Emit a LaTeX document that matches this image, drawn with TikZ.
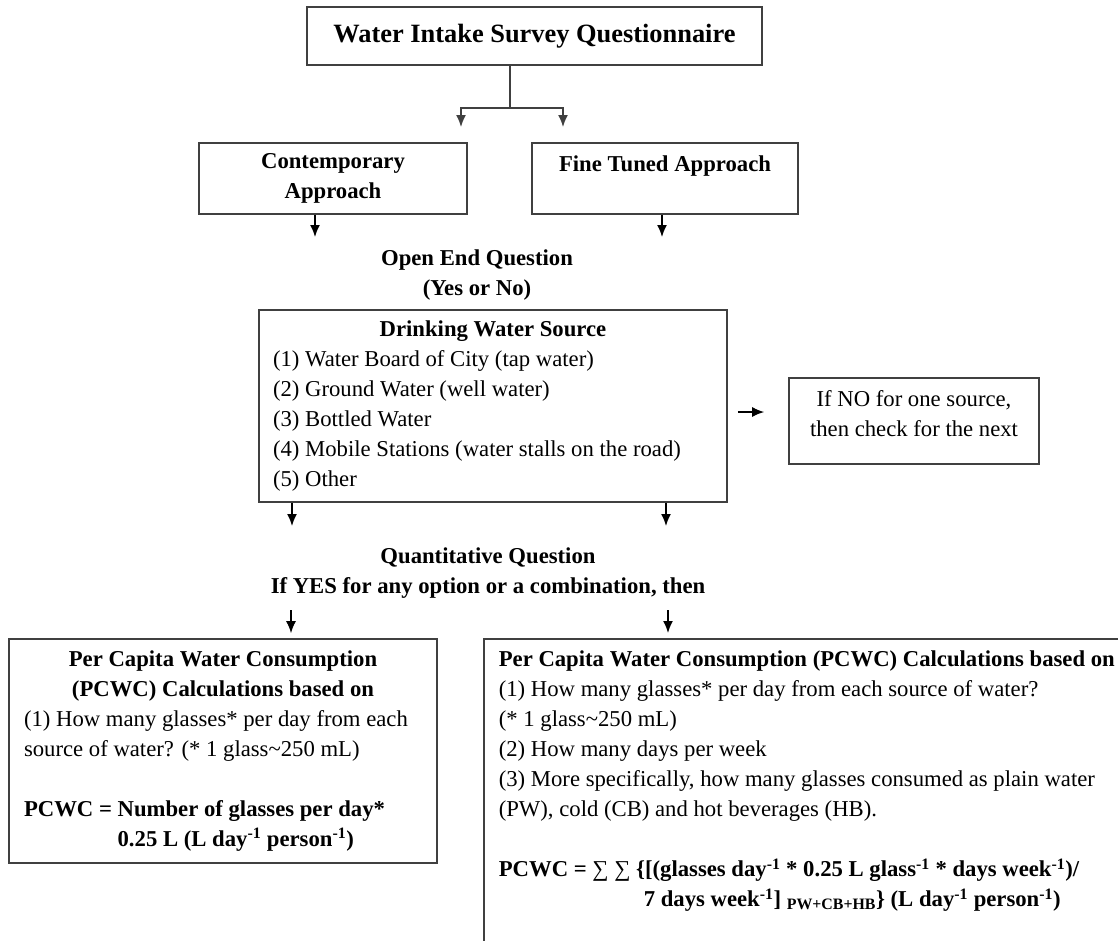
\documentclass[tikz,border=0pt]{standalone}
\usepackage{fontspec}
\setmainfont{Liberation Serif}
\usepackage{tikz}
\usetikzlibrary{arrows.meta,positioning}
\definecolor{boxgray}{gray}{0.25}
\newcommand{\bodysize}{\fontsize{22.7pt}{30pt}\selectfont}
\newcommand{\headsize}{\fontsize{26.4pt}{32pt}\selectfont}
\newcommand{\midline}[1]{\makebox[\hsize][c]{#1}}
\tikzset{
  surveybox/.style={draw=boxgray, line width=1.6pt, font=\headsize\bfseries, minimum width=455pt, minimum height=58pt, inner sep=0pt},
  approachbox/.style={draw=boxgray, line width=1.6pt, align=center, font=\bodysize\bfseries, minimum height=71pt, inner sep=0pt},
  stepnote/.style={align=center, font=\bodysize\bfseries},
  listbox/.style={draw=boxgray, line width=1.6pt, align=flush left, font=\bodysize, inner xsep=14pt, inner ysep=0pt},
  nextbox/.style={draw=boxgray, line width=1.6pt, align=flush center, font=\bodysize, minimum width=250pt, minimum height=86pt, inner sep=0pt},
  linkline/.style={draw=boxgray, line width=1.6pt},
  flowarrow/.style={-{Latex[length=12pt,width=10pt]}, line width=1.6pt}
}

\begin{document}
\begin{tikzpicture}[x=1pt,y=-1pt]
\useasboundingbox (0,0) rectangle (1118,940);
\node[surveybox] (survey) at (534.5,36) {Water Intake Survey Questionnaire};
\node[approachbox, minimum width=268pt] (contemporary) at (333,178.5) {Contemporary\\Approach};
\node[approachbox, minimum width=266pt] (finetuned) at (665,178.5) {Fine Tuned Approach\\\mbox{}};
\node[stepnote] (openq) at (477,275.5) {Open End Question\\(Yes or No)};
\node[listbox, text width=440pt, minimum height=192pt] (source) at (493,406) {\midline{\bfseries Drinking Water Source}\\
(1) Water Board of City (tap water)\\
(2) Ground Water (well water)\\
(3) Bottled Water\\
(4) Mobile Stations (water stalls on the road)\\
(5) Other};
\node[nextbox] (nextcheck) at (914,421) {If NO for one source,\\then check for the next\\[-15pt]\mbox{}};
\node[stepnote] (quantq) at (488,573) {Quantitative Question\\If YES for any option or a combination, then};
\node[listbox, text width=398pt, inner xsep=15pt, minimum height=224pt] (simplecalc) at (223,751) {\midline{\bfseries Per Capita Water Consumption}\\
\midline{\bfseries (PCWC) Calculations based on}\\
(1) How many glasses* per day from each\\
source of water? (* 1 glass\textasciitilde 250 mL)\\[30pt]
\textbf{PCWC = Number of glasses per day*}\\
\textbf{\phantom{PCWC = }0.25 L (L day\textsuperscript{-1} person\textsuperscript{-1})}};
\node[listbox, anchor=north west, text width=640pt, inner xsep=15pt, inner ysep=12pt] (detailcalc) at (483,638) {\textbf{Per Capita Water Consumption (PCWC) Calculations based on}\\
(1) How many glasses* per day from each source of water?\\
(* 1 glass\textasciitilde 250 mL)\\
(2) How many days per week\\
(3) More specifically, how many glasses consumed as plain water\\
(PW), cold (CB) and hot beverages (HB).\\[30pt]
\textbf{PCWC = {\mdseries ∑ ∑} \{[(glasses day\textsuperscript{-1} * 0.25 L glass\textsuperscript{-1} * days week\textsuperscript{-1})/}\\
\textbf{\hspace*{145pt}7 days week\textsuperscript{-1}]~\textsubscript{PW+CB+HB}\} (L day\textsuperscript{-1} person\textsuperscript{-1})}\\[40pt]
\mbox{}};
\coordinate (split) at (510,108);
\coordinate (tipA) at (461,127);
\coordinate (tipB) at (563,127);
\coordinate (tipC) at (315,237);
\coordinate (tipD) at (662,237);
\coordinate (tipE) at (292,526);
\coordinate (tipF) at (666,526);
\coordinate (qA) at (291,610);
\coordinate (qB) at (668,610);
\draw[linkline] (survey.south -| split) -- (split);
\draw[linkline, flowarrow] (split) -| (tipA);
\draw[linkline, flowarrow] (split) -| (tipB);
\draw[flowarrow] (contemporary.south -| tipC) -- (tipC);
\draw[flowarrow] (finetuned.south -| tipD) -- (tipD);
\draw[flowarrow] ([shift={(10,6)}]source.east) -- ([shift={(-24,-9)}]nextcheck.west);
\draw[flowarrow] (source.south -| tipE) -- (tipE);
\draw[flowarrow] (source.south -| tipF) -- (tipF);
\draw[flowarrow, shorten >=5pt] (qA) -- (qA |- simplecalc.north);
\draw[flowarrow, shorten >=5pt] (qB) -- (qB |- detailcalc.north);
\end{tikzpicture}
\end{document}
